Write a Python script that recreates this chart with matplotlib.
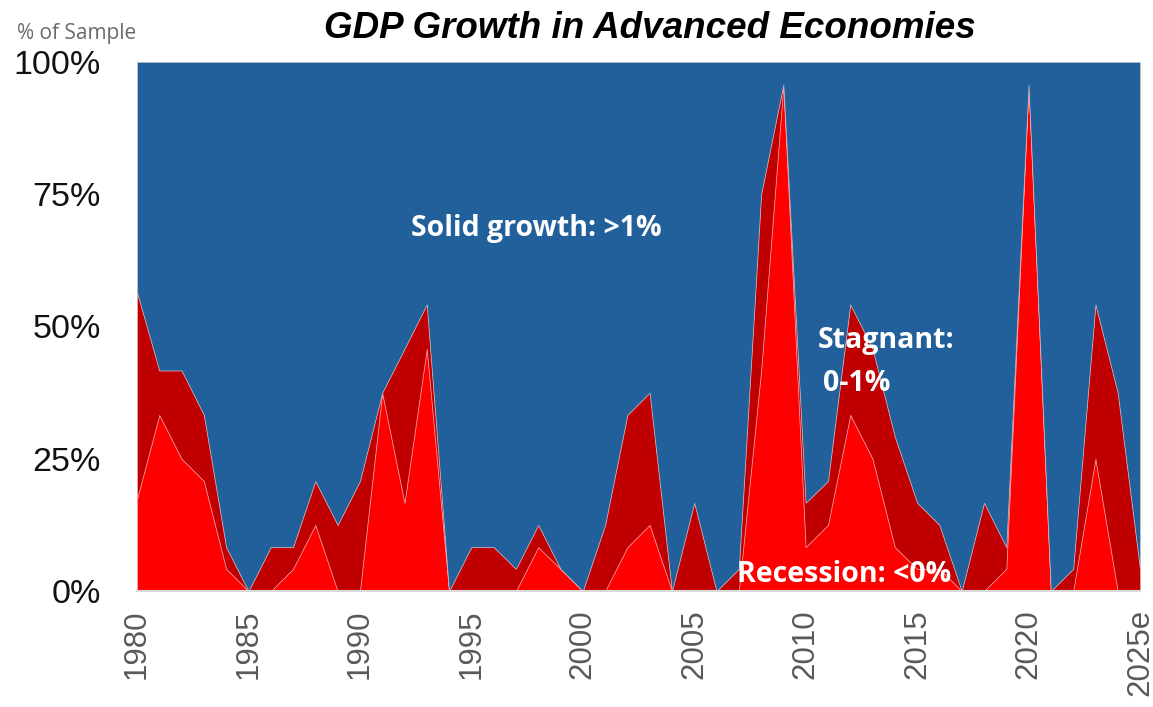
import matplotlib
matplotlib.use("Agg")
import matplotlib.pyplot as plt
import numpy as np

# Share of advanced economies (% of sample) by GDP growth bucket, 1980-2025e
years = list(range(1980, 2026))
recession = [17.4, 33.3, 25.0, 20.8, 4.2, 0.0, 0.0, 4.2, 12.5, 0.0,
             0.0, 37.5, 16.7, 45.8, 0.0, 0.0, 0.0, 0.0, 8.3, 4.2,
             0.0, 0.0, 8.3, 12.5, 0.0, 0.0, 0.0, 0.0, 41.7, 95.8,
             8.3, 12.5, 33.3, 25.0, 8.3, 4.2, 4.2, 0.0, 0.0, 4.2,
             95.8, 0.0, 0.0, 25.0, 0.0, 0.0]
stagnant = [39.1, 8.4, 16.7, 12.5, 4.1, 0.0, 8.3, 4.1, 8.3, 12.5,
            20.8, 0.0, 29.1, 8.4, 0.0, 8.3, 8.3, 4.2, 4.2, 0.0,
            0.0, 12.5, 25.0, 25.0, 0.0, 16.7, 0.0, 4.2, 33.3, 0.0,
            8.4, 8.3, 20.9, 20.8, 20.9, 12.5, 8.3, 0.0, 16.7, 4.1,
            0.0, 0.0, 4.2, 29.2, 37.5, 4.2]
solid = [round(100 - r - s, 1) for r, s in zip(recession, stagnant)]

tick_years = [1980, 1985, 1990, 1995, 2000, 2005, 2010, 2015, 2020, 2025]
tick_labels = ["1980", "1985", "1990", "1995", "2000", "2005", "2010",
               "2015", "2020", "2025e"]
y_ticks = [0, 25, 50, 75, 100]
y_labels = ["0%", "25%", "50%", "75%", "100%"]

RED = "#FF0000"
DARK_RED = "#C00000"
BLUE = "#22609B"

fig = plt.figure(figsize=(11.53, 7.07), dpi=100)
fig.patch.set_facecolor("white")
ax = fig.add_axes([137 / 1153, 116 / 707, (1140 - 137) / 1153, (591 - 62) / 707])

polys = ax.stackplot(years, recession, stagnant, solid,
                     colors=[RED, DARK_RED, BLUE])
for p in polys:
    p.set_edgecolor((1, 0.85, 0.85, 0.45))
    p.set_linewidth(0.6)

ax.set_xlim(1980, 2025)
ax.set_ylim(0, 100)
ax.set_xticks(tick_years)
ax.set_xticklabels(tick_labels, rotation=90, fontsize=22.5,
                   family="Liberation Sans", color="#595959")
ax.set_yticks(y_ticks)
ax.set_yticklabels(y_labels, fontsize=24.5, family="Liberation Sans",
                   color="#111111")
ax.tick_params(axis="x", length=0, pad=13)
ax.tick_params(axis="y", length=0, pad=26)
for side in ["top", "right", "left"]:
    ax.spines[side].set_visible(False)
ax.spines["bottom"].set_color("#D9D9D9")
ax.spines["bottom"].set_linewidth(1.5)
ax.axhline(100, color="#D0D0D0", lw=1.2, zorder=0.5)

# In-chart category labels
label_kw = dict(color="white", fontweight="bold", family="Open Sans",
                fontsize=20.5, va="center")
ax.text(1997.9, 68.6, "Solid growth: >1%", ha="center", **label_kw)
ax.text(2010.55, 47.3, "Stagnant:", ha="left", **label_kw)
ax.text(2010.8, 39.2, "0-1%", ha="left", **label_kw)
ax.text(2006.9, 3.2, "Recession: <0%", ha="left", **label_kw)

fig.text(650 / 1153, 1 - 28 / 707, "GDP Growth in Advanced Economies",
         ha="center", va="center", fontsize=26.5, fontweight="bold",
         fontstyle="italic", family="Liberation Sans", color="black")
fig.text(17 / 1153, 1 - 33 / 707, "% of Sample", ha="left", va="center",
         fontsize=15, family="Open Sans", color="#6B6B6B")

fig.savefig("out.png", dpi=100)
